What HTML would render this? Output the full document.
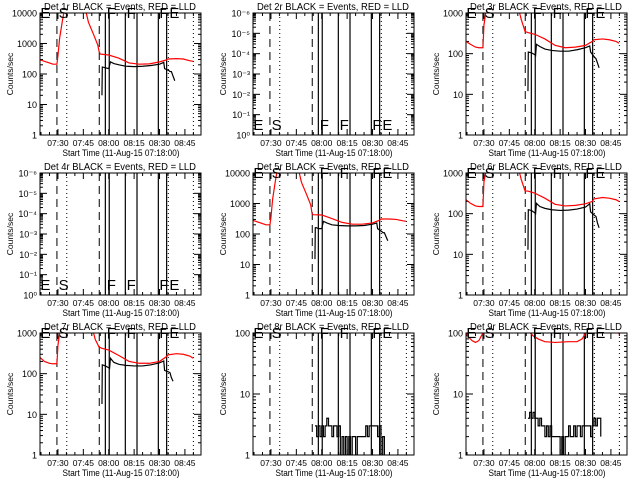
<!DOCTYPE html>
<html><head><meta charset="utf-8">
<style>
html,body{margin:0;padding:0;background:#fff;}
svg{display:block;font-family:"Liberation Sans",sans-serif;}
</style></head>
<body>
<svg id="chart" width="640" height="480" viewBox="0 0 640 480"></svg>
<script>
// ---- data (minutes after 07:00, counts/sec) ----
const detNames = ["1r","2r","3r","4r","5r","6r","7r","8r","9r"];
const yMinExp = [0,0,0,0,0,0,0,0,0];
const yMaxExp = [4,6,3,6,4,3,3,2,2];
const labelStyle = ["num","exp","num","exp","num","num","num","num","num"];
const dashedTimes = [29.4,54.4];
const dottedTimes = [35.2,95.2,110];
const solidTimes = [58,60.3,69.8,76.7,89.3,94.2];
const markerLabels = ["E","S","F","F","F","E"];
const markerTimes = [19.6,30.4,58.8,70.6,89.9,95.8];
const xTickLabels = ["07:30","07:45","08:00","08:15","08:30","08:45"];
const xTickTimes = [30,45,60,75,90,105];

const p1RedT=[19.4,25,27,29.4,30,31,32.5,34,46,48,51,53.5,54.3,55,60,66,72,78,84,90,94,95,100,104,108,109.8];
const p1RedV=[290,230,210,210,400,1500,5000,15000,15000,5000,2000,900,550,450,420,330,230,210,215,250,290,310,320,310,270,260];
const p1BlkT=[56,56.2,58,60,61,63,66,70,75,80,85,90,92.5,93,95.5,96.2,97,99];
const p1BlkV=[20,170,160,150,250,220,200,180,175,180,190,210,240,150,130,120,120,60];

const p3RedT=[19.4,22,25,27,29.4,30,31,32,50,52,54.3,56,60,66,72,78,84,90,94,95,100,104,108,109.8];
const p3RedV=[200,170,145,140,140,500,1000,1500,1500,700,350,330,300,230,160,140,145,160,200,220,230,220,200,180];
const p3BlkT=[56,56.2,58,60,60.5,61,63,66,70,75,80,85,90,92.5,93,95.5,96.2,97,98];
const p3BlkV=[12,110,105,95,90,170,150,130,120,115,115,125,140,155,110,80,75,60,45];

const p5RedT=[19.4,25,27,29.4,30,31,32.5,34,46,48,51,53.5,54.3,55,60,66,72,78,84,90,94,95,100,104,108,109.8];
const p5RedV=[280,220,200,200,350,1400,5000,15000,15000,5000,2000,900,460,430,420,320,240,210,210,230,280,310,310,300,270,260];
const p5BlkT=[56,56.2,57,58,60,61,63,66,70,75,80,85,90,92.5,93,95.5,96.2,97,99];
const p5BlkV=[15,160,160,150,150,260,230,200,190,185,185,190,210,230,150,120,110,110,60];

const p6RedT=[19.4,22,25,27,29.4,30,31,32,50,52,54.3,56,60,66,72,78,84,90,94,95,100,104,108,109.8];
const p6RedV=[220,180,155,150,150,600,1000,1500,1500,700,360,360,320,240,170,155,160,175,200,230,250,240,220,200];
const p6BlkT=[56,56.2,58,60,60.5,61,63,66,70,75,80,85,90,92.5,93,95.5,96.2,97,98];
const p6BlkV=[13,125,120,105,100,180,150,135,125,120,122,130,145,175,110,90,85,60,45];

const p7RedT=[19.4,22,25,27,29.4,30,31,32,50,52,54.3,56,60,66,72,78,84,90,94,95,100,104,108,109.8];
const p7RedV=[250,200,180,175,175,500,1000,1500,1500,700,450,420,380,280,200,180,180,200,260,290,310,300,270,240];
const p7BlkT=[56,56.2,58,60,60.5,61,63,66,70,75,80,85,90,92.5,93,95.5,96.2,97,98];
const p7BlkV=[18,165,155,140,135,240,190,170,160,155,155,165,185,205,120,110,105,80,65];

const p8BlkT=[56,57,58,59,60,61,62,63,64,65,66,67,68,69,70,71,72,73,74,75,76,77,78,79,80,81,82,83,84,85,86,87,88,89,90,91,92,93,94,95,96,97];
const p8BlkV=[3,2,3,2,3,2,3,4,3,3,2,3,3,2,3,1,2,1,2,1,2,1,2,2,1,2,2,2,2,2,3,2,3,3,3,3,3,2,3,1,2,1];

const p9RedT=[19.4,21,23,25,27,28.5,29.4,30,57,57.5,59,62,66,72,80,85,88,90,91,108,109.8];
const p9RedV=[100,85,75,70,75,90,100,300,300,100,90,80,72,70,72,72,80,100,300,300,95];
const p9BlkT=[56,57,58,59,60,61,62,63,64,65,66,67,68,69,70,71,72,73,74,75,76,77,78,79,80,81,82,83,84,85,86,87,88,89,90,91,92,93,94,95,96,97,98,99];
const p9BlkV=[4,5,4,5,4,4,3,4,3,3,2,3,2,3,2,2,2,2,2,1,2,1,2,2,3,2,2,3,2,3,3,2,3,3,3,3,3,2,3,4,3,4,4,2];

const redT=[p1RedT,null,p3RedT,null,p5RedT,p6RedT,p7RedT,null,p9RedT];
const redV=[p1RedV,null,p3RedV,null,p5RedV,p6RedV,p7RedV,null,p9RedV];
const blkT=[p1BlkT,null,p3BlkT,null,p5BlkT,p6BlkT,p7BlkT,p8BlkT,p9BlkT];
const blkV=[p1BlkV,null,p3BlkV,null,p5BlkV,p6BlkV,p7BlkV,p8BlkV,p9BlkV];

const NS="http://www.w3.org/2000/svg";
const svg=document.getElementById("chart");
function mk(tag,attrs,parent){const e=document.createElementNS(NS,tag);for(const k in attrs)e.setAttribute(k,attrs[k]);parent.appendChild(e);return e;}
const L=40,R=201,T=13,B=135,TMIN=19.4,TMAX=114.5;
const SUP=["⁰","¹","²","³","⁴","⁵","⁶"];

for(let p=0;p<9;p++){
  const ox=(p%3)*213, oy=Math.floor(p/3)*160;
  const g=mk("g",{transform:`translate(${ox},${oy})`},svg);
  
  
  const xs=t=>L+(t-TMIN)/(TMAX-TMIN)*(R-L);
  const e0=yMinExp[p],e1=yMaxExp[p];
  const ys=v=>B-(Math.log10(Math.max(v,1e-3))-e0)/(e1-e0)*(B-T);
  const cid="clip"+p;
  const cp=mk("clipPath",{id:cid},g);mk("rect",{x:L,y:T,width:R-L,height:B-T},cp);
  const tt=mk("text",{x:120,y:10,"text-anchor":"middle","font-size":"10.5",textLength:"152",lengthAdjust:"spacingAndGlyphs"},g);
  tt.textContent=`Det ${detNames[p]} BLACK = Events, RED = LLD`;
  
  
  const yl=mk("text",{x:0,y:0,transform:"translate(13,74) rotate(-90)","text-anchor":"middle","font-size":"8.5"},g);
  yl.textContent="Counts/sec";
  
  
  const xl=mk("text",{x:121,y:156,"text-anchor":"middle","font-size":"9.5",textLength:"117",lengthAdjust:"spacingAndGlyphs"},g);
  xl.textContent="Start Time (11-Aug-15 07:18:00)";
  
  
  for(let t=20;t<=110;t+=5){const x=xs(t);const major=xTickTimes.includes(t);const len=major?6:3;
    mk("line",{x1:x,y1:B,x2:x,y2:B-len,stroke:"#000","stroke-width":1},g);
    mk("line",{x1:x,y1:T,x2:x,y2:T+len,stroke:"#000","stroke-width":1},g);}
  for(let i=0;i<xTickLabels.length;i++){
    const tl=mk("text",{x:xs(xTickTimes[i]),y:146,"text-anchor":"middle","font-size":"8.5"},g);
    tl.textContent=xTickLabels[i];
    
    }
  for(let e=e0;e<=e1;e++){
    const y=B-(e-e0)/(e1-e0)*(B-T);
    mk("line",{x1:L,y1:y,x2:L+7,y2:y,stroke:"#000"},g);
    mk("line",{x1:R,y1:y,x2:R-7,y2:y,stroke:"#000"},g);
    const lab=mk("text",{x:L-3,y:y+3.5,"text-anchor":"end","font-size":"9"},g);
    if(labelStyle[p]==="num"){lab.textContent=String(Math.pow(10,e));}
    else{const k=e;lab.textContent="10"+(k===0?SUP[0]:"⁻"+SUP[k]);}
    
    
    if(e<e1){for(let m=2;m<=9;m++){const ym=y-Math.log10(m)/(e1-e0)*(B-T);
      mk("line",{x1:L,y1:ym,x2:L+3,y2:ym,stroke:"#000"},g);
      mk("line",{x1:R,y1:ym,x2:R-3,y2:ym,stroke:"#000"},g);}}
  }
  const vg=mk("g",{"clip-path":`url(#${cid})`},g);
  dashedTimes.forEach(t=>{const l=mk("line",{x1:xs(t),y1:T,x2:xs(t),y2:B,stroke:"#000","stroke-dasharray":"8,5"},vg);
    });
  dottedTimes.forEach(t=>{const l=mk("line",{x1:xs(t),y1:T,x2:xs(t),y2:B,stroke:"#000","stroke-dasharray":"1,3"},vg);
    });
  solidTimes.forEach(t=>{const l=mk("line",{x1:xs(t),y1:T,x2:xs(t),y2:B,stroke:"#000","stroke-width":1.2},vg);
    });
  if(redT[p]){const pl=mk("polyline",{points:redT[p].map((t,i)=>xs(t)+","+ys(redV[p][i])).join(" "),fill:"none",stroke:"#ff0000","stroke-width":1.2},vg);
    }
  if(blkT[p]){const stepPts=[];const T_=blkT[p],V_=blkV[p];
    for(let i=0;i<T_.length;i++){const y=ys(V_[i]);stepPts.push(xs(T_[i])+","+y);if(i+1<T_.length&&(p>=7))stepPts.push(xs(T_[i+1])+","+y);}
    const pl=mk("polyline",{points:stepPts.join(" "),fill:"none",stroke:"#000","stroke-width":1.2},vg);
    }
  const ly=(labelStyle[p]==="exp")?130:18;
  for(let i=0;i<markerLabels.length;i++){
    const lt=mk("text",{x:xs(markerTimes[i]),y:ly,"font-size":"15","font-weight":"normal"},g);
    lt.textContent=markerLabels[i];
    
    }
  const fr=mk("rect",{x:L,y:T,width:R-L,height:B-T,fill:"none",stroke:"#000","stroke-width":1},g);
  
  
}
</script>
</body></html>
